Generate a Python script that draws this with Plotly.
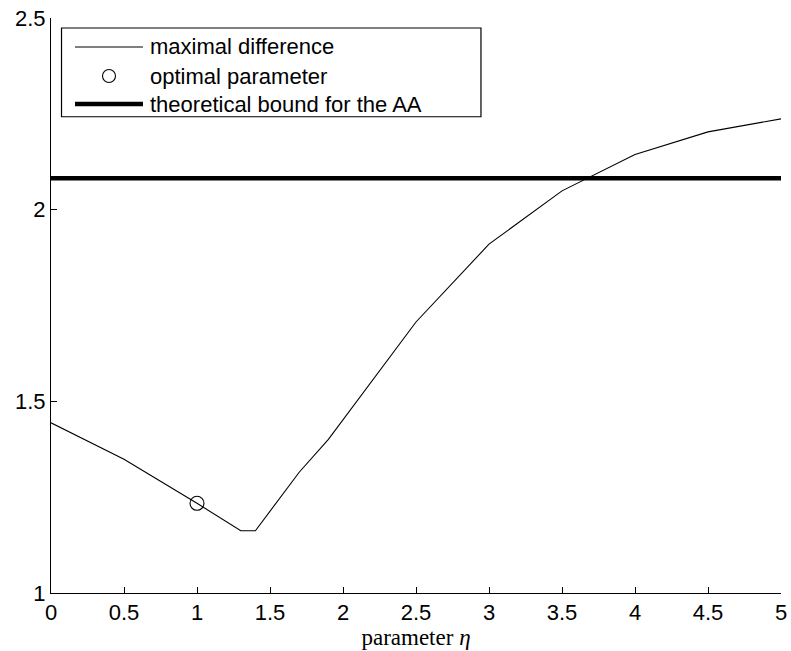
import plotly.graph_objects as go

# maximal difference as a function of the parameter eta
eta = [0, 0.5, 1, 1.3, 1.4, 1.7, 1.9, 2.5, 3, 3.5, 4, 4.5, 5]
max_diff = [1.444, 1.349, 1.234, 1.1625, 1.1625, 1.315, 1.401, 1.707, 1.910, 2.049, 2.144, 2.203, 2.237]

# chosen parameter
opt_eta = [1]
opt_val = [1.234]

# theoretical bound for the AA
bound_x = [0, 5]
bound_val = [2.082, 2.082]

legend_labels = ["maximal difference", "optimal parameter", "theoretical bound for the AA"]

SANS = "Liberation Sans, Arial, sans-serif"
SERIF = "Liberation Serif, Times New Roman, serif"

fig = go.Figure()
fig.add_trace(go.Scatter(x=eta, y=max_diff, mode="lines",
                         line=dict(color="black", width=1.1), showlegend=False))
fig.add_trace(go.Scatter(x=opt_eta, y=opt_val, mode="markers",
                         marker=dict(symbol="circle-open", size=14, color="black",
                                     line=dict(width=1.1)), showlegend=False))
fig.add_trace(go.Scatter(x=bound_x, y=bound_val, mode="lines",
                         line=dict(color="black", width=4.5), showlegend=False))

# hand-drawn legend box (paper coordinates)
L, R, T, B = 0.0144, 0.589, 0.9826, 0.8283
rows = [0.9496, 0.8991, 0.8504]
sx0, sx1, tx = 0.0329, 0.126, 0.1329
shapes = [
    dict(type="rect", xref="paper", yref="paper", x0=L, x1=R, y0=B, y1=T,
         line=dict(color="black", width=1.2), fillcolor="white", layer="above"),
    dict(type="line", xref="paper", yref="paper", x0=sx0, x1=sx1, y0=rows[0], y1=rows[0],
         line=dict(color="black", width=1.1), layer="above"),
    dict(type="circle", xref="paper", yref="paper", xsizemode="pixel", ysizemode="pixel",
         xanchor=(sx0 + sx1) / 2, yanchor=rows[1], x0=-6.5, x1=6.5, y0=-6.5, y1=6.5,
         line=dict(color="black", width=1.1), layer="above"),
    dict(type="line", xref="paper", yref="paper", x0=sx0, x1=sx1, y0=rows[2], y1=rows[2],
         line=dict(color="black", width=4.5), layer="above"),
]
annotations = [
    dict(xref="paper", yref="paper", x=tx, y=yy, text=txt, showarrow=False,
         xanchor="left", yanchor="middle", font=dict(family=SANS, size=22, color="black"))
    for yy, txt in zip(rows, legend_labels)
]

fig.update_layout(
    width=791, height=651,
    margin=dict(l=51, r=10, t=18, b=58),
    paper_bgcolor="white", plot_bgcolor="white",
    shapes=shapes, annotations=annotations,
    font=dict(family=SANS, size=22, color="black"),
)
fig.update_xaxes(range=[0, 5], tickvals=[0, 0.5, 1, 1.5, 2, 2.5, 3, 3.5, 4, 4.5, 5],
                 ticktext=["0", "0.5", "1", "1.5", "2", "2.5", "3", "3.5", "4", "4.5", "5"],
                 showline=True, linecolor="black", linewidth=1, mirror=False, automargin=False,
                 ticks="inside", ticklen=6, tickcolor="black", showgrid=False, zeroline=False,
                 tickfont=dict(family=SANS, size=22),
                 title=dict(text="parameter <i>η</i>", font=dict(family=SERIF, size=23), standoff=4))
fig.update_yaxes(range=[1, 2.5], tickvals=[1, 1.5, 2, 2.5], ticktext=["1", "1.5", "2", "2.5"],
                 showline=True, linecolor="black", linewidth=1, mirror=False, automargin=False,
                 ticks="inside", ticklen=6, tickcolor="black", showgrid=False, zeroline=False,
                 tickfont=dict(family=SANS, size=22))

fig.write_html("out.html")
